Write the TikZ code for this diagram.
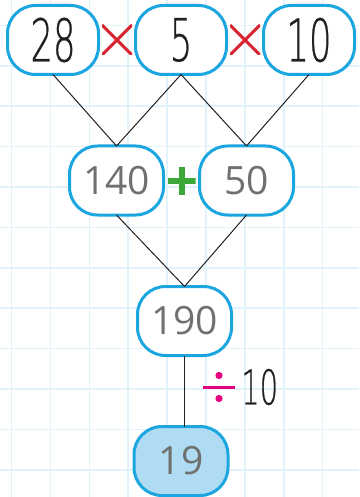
\documentclass[tikz,border=0pt]{standalone}
\usepackage{fontspec}
\setmainfont{Open Sans}
\newfontfamily\printfont{DejaVuSans-ExtraLight}[Extension=.ttf, FakeStretch=0.6, FakeBold=0.5]
\usetikzlibrary{positioning, calc}
\definecolor{boxblue}{HTML}{1CA6E0}
\definecolor{answerfill}{HTML}{AFDCF2}
\definecolor{gridblue}{HTML}{E2F2FA}
\definecolor{crossred}{HTML}{D8232E}
\definecolor{plusgreen}{HTML}{3CA83A}
\definecolor{divpink}{HTML}{E5007D}
\definecolor{penGrey}{HTML}{707070}
\definecolor{inkblack}{HTML}{231F20}
\tikzset{
    box/.style={draw=boxblue, line width=3pt, fill=white, rounded corners=28pt, minimum width=91pt, minimum height=69pt, inner sep=0pt, outer sep=0pt, align=center, text=inkblack, font=\printfont\fontsize{59}{59}\selectfont},
    handbox/.style={box, minimum width=94pt, text=penGrey, font=\fontsize{39}{39}\selectfont},
    answerbox/.style={handbox, fill=answerfill},
    link/.style={inkblack, line width=1pt},
    gridline/.style={gridblue, line width=1.5pt},
    timesmark/.style={minimum size=30pt, inner sep=0pt, path picture={
        \draw[crossred, line width=3pt] (path picture bounding box.north west) -- (path picture bounding box.south east)
            (path picture bounding box.south west) -- (path picture bounding box.north east);}},
    plusmark/.style={minimum size=28pt, inner sep=0pt, path picture={
        \draw[plusgreen, line width=6pt] (path picture bounding box.north) -- (path picture bounding box.south)
            (path picture bounding box.west) -- (path picture bounding box.east);}},
    divmark/.style={minimum width=32pt, minimum height=31pt, inner sep=0pt, path picture={
        \draw[divpink, line width=3pt] (path picture bounding box.west) -- (path picture bounding box.east);
        \fill[divpink] ($(path picture bounding box.center)+(0,-11.5)$) circle (3.6pt)
            ($(path picture bounding box.center)+(0,11.5)$) circle (3.6pt);}}
}
\begin{document}
\begin{tikzpicture}[x=1pt, y=-1pt]
        \useasboundingbox (0,0) rectangle (359,497);
        % squared paper
        \foreach \gx in {0,...,9}
            \draw [gridline] ({11.5+38.9*\gx},0) -- ++(0,497);
        \foreach \gy in {0,...,11}
            \draw [gridline] (0,{25.4+40.4*\gy}) -- ++(359,0);

        \node [box] (a) at (53,40) {28};
        \node [box, right=37pt of a] (b) {5};
        \node [box, right=37pt of b] (c) {10};
        \node [timesmark] (ab) at ($(a.east)!0.5!(b.west)$) {};
        \node [timesmark] (bc) at ($(b.east)!0.5!(c.west)$) {};

        \node [handbox] (p) at (116.5,180.5) {140};
        \node [handbox] (q) at (246.5,180.5) {50};
        \node [plusmark] (pq) at ($(p.east)!0.5!(q.west)$) {};

        \node [handbox] (sum) at (184.5,321) {190};
        \node [answerbox] (res) at (181,461) {19};

        \node [divmark] (div) at (219,387) {};
        \node [right=6pt of div, inner sep=0pt, text=inkblack, font=\printfont\fontsize{48}{48}\selectfont] (ten) {10};

        \draw [link] (a.south) -- (p.north);
        \draw [link] (b.south) -- (p.north);
        \draw [link] (b.south) -- (q.north);
        \draw [link] (c.south) -- (q.north);
        \draw [link] (p.south) -- (sum.north);
        \draw [link] (q.south) -- (sum.north);
        \draw [link] (sum.south) -- (sum.south |- res.north);
    \end{tikzpicture}
\end{document}
